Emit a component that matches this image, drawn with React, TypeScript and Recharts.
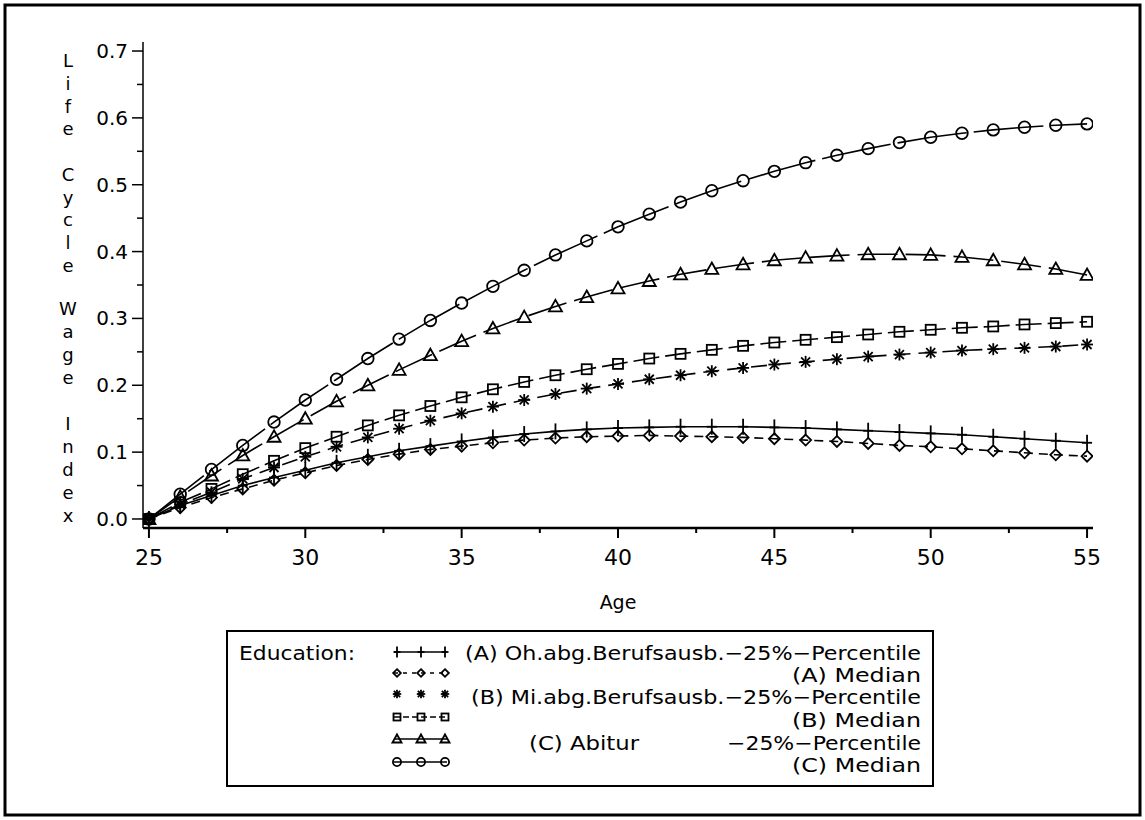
import React from "react";
import { LineChart, Line, XAxis, YAxis, Customized } from "recharts";

if (typeof document !== "undefined") document.body.style.margin = "0";

const FONT = "DejaVu Sans";

const AGES = [25, 26, 27, 28, 29, 30, 31, 32, 33, 34, 35, 36, 37, 38, 39, 40, 41, 42, 43, 44, 45, 46, 47, 48, 49, 50, 51, 52, 53, 54, 55];

// (A) Oh.abg.Berufsausb.
const A_P25 = [0, 0.020, 0.035, 0.050, 0.062, 0.073, 0.084, 0.093, 0.102, 0.109, 0.116, 0.122, 0.127, 0.131, 0.134, 0.136, 0.137, 0.138, 0.138, 0.138, 0.137, 0.136, 0.134, 0.132, 0.130, 0.128, 0.126, 0.123, 0.120, 0.117, 0.114];
const A_MED = [0, 0.017, 0.032, 0.045, 0.058, 0.069, 0.080, 0.089, 0.097, 0.104, 0.109, 0.114, 0.118, 0.121, 0.123, 0.124, 0.125, 0.124, 0.123, 0.122, 0.120, 0.118, 0.116, 0.113, 0.110, 0.108, 0.105, 0.102, 0.099, 0.096, 0.094];
// (B) Mi.abg.Berufsausb.
const B_P25 = [0, 0.022, 0.040, 0.060, 0.077, 0.093, 0.108, 0.122, 0.135, 0.147, 0.158, 0.168, 0.178, 0.187, 0.195, 0.202, 0.209, 0.215, 0.221, 0.226, 0.231, 0.235, 0.239, 0.243, 0.246, 0.249, 0.252, 0.254, 0.256, 0.258, 0.261];
const B_MED = [0, 0.025, 0.045, 0.067, 0.087, 0.106, 0.123, 0.140, 0.155, 0.169, 0.182, 0.194, 0.205, 0.215, 0.224, 0.232, 0.240, 0.247, 0.253, 0.259, 0.264, 0.268, 0.272, 0.276, 0.280, 0.283, 0.286, 0.288, 0.291, 0.293, 0.295];
// (C) Abitur
const C_P25 = [0, 0.033, 0.065, 0.095, 0.123, 0.150, 0.176, 0.200, 0.223, 0.245, 0.266, 0.285, 0.302, 0.318, 0.332, 0.345, 0.356, 0.366, 0.374, 0.381, 0.387, 0.391, 0.394, 0.396, 0.396, 0.395, 0.392, 0.387, 0.381, 0.374, 0.365];
const C_MED = [0, 0.037, 0.074, 0.110, 0.145, 0.178, 0.209, 0.240, 0.269, 0.297, 0.323, 0.348, 0.372, 0.395, 0.416, 0.437, 0.456, 0.474, 0.491, 0.506, 0.520, 0.533, 0.544, 0.554, 0.563, 0.571, 0.577, 0.582, 0.586, 0.589, 0.591];

const X_TICKS = [25, 27.5, 30, 32.5, 35, 37.5, 40, 42.5, 45, 47.5, 50, 52.5, 55];
const Y_TICKS = [0, 0.05, 0.1, 0.15, 0.2, 0.25, 0.3, 0.35, 0.4, 0.45, 0.5, 0.55, 0.6, 0.65, 0.7];

const data = AGES.map((age, i) => ({
  age,
  aP25: A_P25[i],
  aMed: A_MED[i],
  bP25: B_P25[i],
  bMed: B_MED[i],
  cP25: C_P25[i],
  cMed: C_MED[i],
}));

type Shape = "plus" | "diamond" | "star" | "square" | "triangle" | "circle";

function Marker({ shape, cx, cy, s = 1 }: { shape: Shape; cx: number; cy: number; s?: number }) {
  const st = { stroke: "#000", strokeWidth: 1.8, fill: "none" };
  switch (shape) {
    case "plus":
      return (
        <g {...st}>
          <line x1={cx} y1={cy - 8 * s} x2={cx} y2={cy + 8 * s} />
          <line x1={cx - 5 * s} y1={cy} x2={cx + 5 * s} y2={cy} />
        </g>
      );
    case "diamond":
      return <polygon {...st} points={`${cx},${cy - 5.5 * s} ${cx + 5.5 * s},${cy} ${cx},${cy + 5.5 * s} ${cx - 5.5 * s},${cy}`} />;
    case "star": {
      const r = 6 * s;
      const d = r * 0.75;
      return (
        <g {...st}>
          <line x1={cx} y1={cy - r} x2={cx} y2={cy + r} />
          <line x1={cx - r} y1={cy} x2={cx + r} y2={cy} />
          <line x1={cx - d} y1={cy - d} x2={cx + d} y2={cy + d} />
          <line x1={cx - d} y1={cy + d} x2={cx + d} y2={cy - d} />
        </g>
      );
    }
    case "square":
      return <rect {...st} x={cx - 5 * s} y={cy - 5 * s} width={10 * s} height={10 * s} />;
    case "triangle":
      return <polygon {...st} points={`${cx},${cy - 6.5 * s} ${cx + 6.5 * s},${cy + 5 * s} ${cx - 6.5 * s},${cy + 5 * s}`} />;
    default:
      return <circle {...st} cx={cx} cy={cy} r={5.8 * s} />;
  }
}

const dotFor = (shape: Shape) => (props: any) => (
  <g key={`${shape}-${props.index}`}>
    <Marker shape={shape} cx={props.cx} cy={props.cy} />
  </g>
);

const XTick = (props: any) => {
  const { x, y, payload } = props;
  const major = payload.value % 5 === 0;
  return (
    <g>
      <line x1={x} y1={y} x2={x} y2={y + (major ? 10 : 5)} stroke="#000" strokeWidth={2} />
      {major && (
        <text x={x} y={y + 37} textAnchor="middle" fontFamily={FONT} fontSize={22} fill="#000">
          {payload.value}
        </text>
      )}
    </g>
  );
};

const YTick = (props: any) => {
  const { x, y, payload } = props;
  const major = Math.round(payload.value * 100) % 10 === 0;
  return (
    <g>
      <line x1={x} y1={y} x2={x - (major ? 11 : 6)} y2={y} stroke="#000" strokeWidth={1.5} />
      {major && (
        <text x={x - 15} y={y + 7} textAnchor="end" fontFamily={FONT} fontSize={20} fill="#000">
          {payload.value.toFixed(1)}
        </text>
      )}
    </g>
  );
};

const Y_LETTERS: [string, number][] = [
  ["L", 60], ["i", 83], ["f", 106], ["e", 128],
  ["C", 174], ["y", 197], ["c", 219], ["l", 242], ["e", 265],
  ["W", 308], ["a", 331], ["g", 354], ["e", 377],
  ["I", 423], ["n", 446], ["d", 469], ["e", 492], ["x", 515],
];

const LEGEND_ROWS: { shape: Shape; dash?: string; sy: number }[] = [
  { shape: "plus", sy: 652 },
  { shape: "diamond", dash: "4 5", sy: 673 },
  { shape: "star", dash: "2 22", sy: 694 },
  { shape: "square", dash: "6 3", sy: 717 },
  { shape: "triangle", sy: 739 },
  { shape: "circle", sy: 762 },
];

// legend texts: [text, anchor x, y, anchor, width]
const LEGEND_TEXTS: [string, number, number, "start" | "end", number][] = [
  ["(A) Oh.abg.Berufsausb.−25%−Percentile", 921, 653, "end", 456],
  ["(A) Median", 921, 675, "end", 129],
  ["(B) Mi.abg.Berufsausb.−25%−Percentile", 921, 697, "end", 450],
  ["(B) Median", 921, 720, "end", 129],
  ["(C) Abitur", 529, 743, "start", 110],
  ["−25%−Percentile", 921, 743, "end", 194],
  ["(C) Median", 921, 765, "end", 129],
];

const Decorations = () => (
  <g fontFamily={FONT} fill="#000">
    <rect x={5} y={5} width={1135} height={810} fill="none" stroke="#000" strokeWidth={3} />
    {Y_LETTERS.map(([ch, yy], i) => (
      <text key={i} x={68} y={yy} textAnchor="middle" dominantBaseline="central" fontSize={18}>
        {ch}
      </text>
    ))}
    <text x={618} y={602} textAnchor="middle" dominantBaseline="central" fontSize={19}>
      Age
    </text>
    <rect x={227} y={631} width={706} height={155} fill="none" stroke="#000" strokeWidth={2} />
    <text x={239} y={653} dominantBaseline="central" fontSize={20} textLength={116} lengthAdjust="spacingAndGlyphs">
      Education:
    </text>
    {LEGEND_ROWS.map((r, i) => (
      <g key={i}>
        <line x1={394} y1={r.sy} x2={447} y2={r.sy} stroke="#000" strokeWidth={1.5} strokeDasharray={r.dash} />
        {[397, 421, 445].map((mx) => (
          <Marker key={mx} shape={r.shape} cx={mx} cy={r.sy} s={0.7} />
        ))}
      </g>
    ))}
    <g fontSize={20}>
      {LEGEND_TEXTS.map(([t, x, y, anchor, w], i) => (
        <text key={i} x={x} y={y} textAnchor={anchor} dominantBaseline="central" textLength={w} lengthAdjust="spacingAndGlyphs">
          {t}
        </text>
      ))}
    </g>
  </g>
);

const SERIES: { key: string; shape: Shape; dash?: string }[] = [
  { key: "aP25", shape: "plus" },
  { key: "aMed", shape: "diamond", dash: "9 6" },
  { key: "bP25", shape: "star", dash: "16 8" },
  { key: "bMed", shape: "square", dash: "26 6" },
  { key: "cP25", shape: "triangle", dash: "40 8" },
  { key: "cMed", shape: "circle", dash: "70 7" },
];

export default function App() {
  return (
    <div style={{ width: 1145, height: 820, background: "#fff" }}>
      <LineChart width={1145} height={820} data={data} margin={{ top: 42, right: 52, bottom: 252, left: 83 }}>
        <XAxis
          dataKey="age"
          type="number"
          domain={[24.81, 55.19]}
          ticks={X_TICKS}
          interval={0}
          height={40}
          tickSize={0}
          tickMargin={0}
          tickLine={false}
          axisLine={{ stroke: "#000", strokeWidth: 2.5 }}
          tick={<XTick />}
          allowDataOverflow
        />
        <YAxis
          type="number"
          domain={[-0.0135, 0.7135]}
          ticks={Y_TICKS}
          interval={0}
          width={60}
          tickSize={0}
          tickMargin={0}
          tickLine={false}
          axisLine={{ stroke: "#000", strokeWidth: 1.5 }}
          tick={<YTick />}
          allowDataOverflow
        />
        {SERIES.map((s) => (
          <Line
            key={s.key}
            dataKey={s.key}
            type="linear"
            stroke="#000"
            strokeWidth={1.6}
            strokeDasharray={s.dash}
            dot={dotFor(s.shape)}
            activeDot={false}
            isAnimationActive={false}
          />
        ))}
        <Customized component={Decorations} />
      </LineChart>
    </div>
  );
}
